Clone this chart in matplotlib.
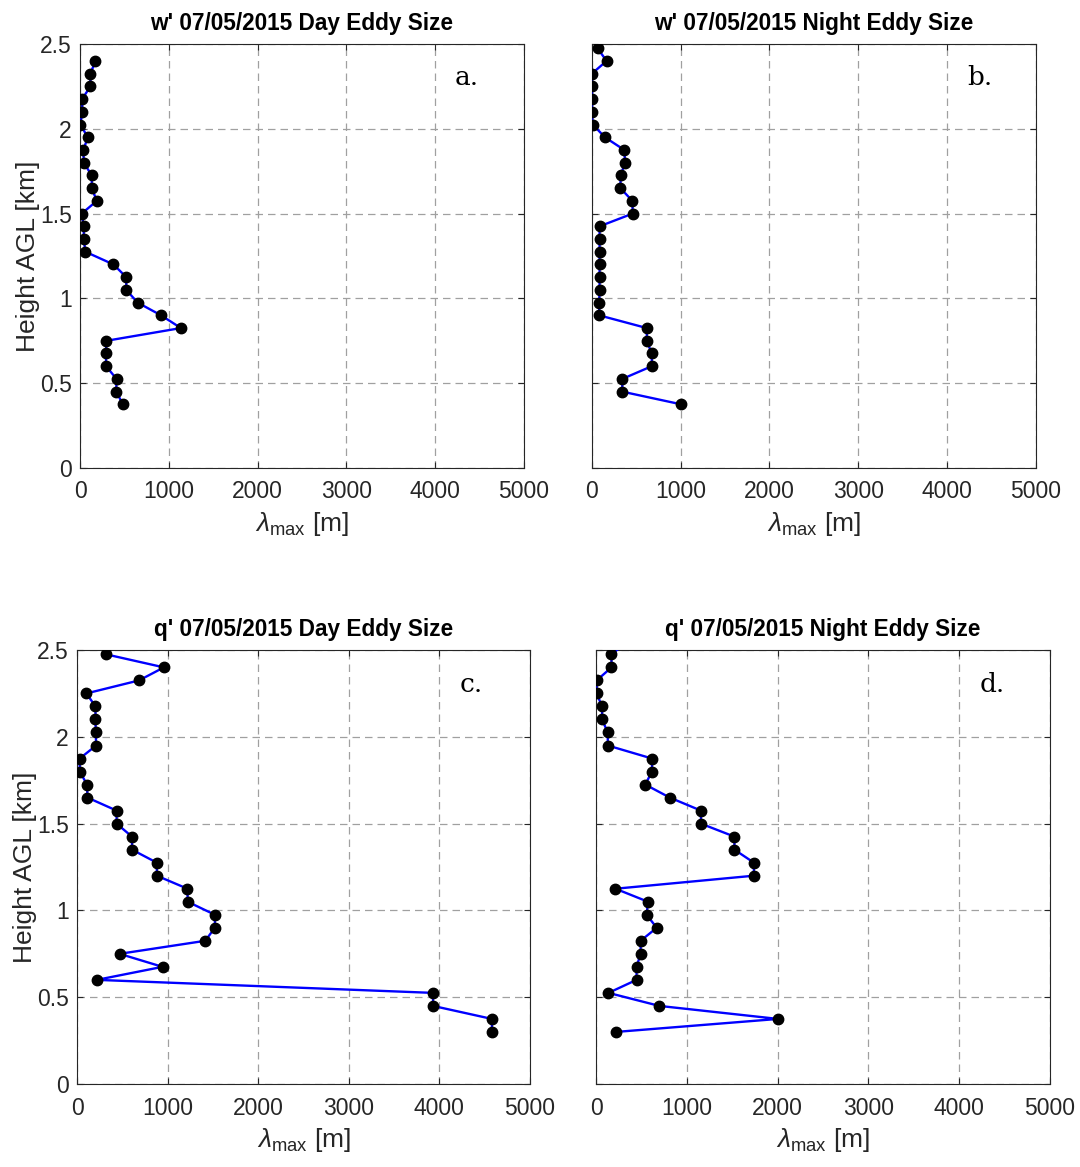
import numpy as np
from matplotlib import pyplot as plt
from matplotlib.ticker import FuncFormatter

plt.rcParams['font.family'] = ['Liberation Sans', 'DejaVu Sans']
plt.rcParams['mathtext.fontset'] = 'custom'
plt.rcParams['mathtext.rm'] = 'Liberation Sans'
plt.rcParams['mathtext.it'] = 'Liberation Sans:italic'

# heights [km], 75 m spacing, top to bottom
h_w_day = [2.4, 2.325, 2.25, 2.175, 2.1, 2.025, 1.95, 1.875, 1.8, 1.725, 1.65, 1.575, 1.5, 1.425,
           1.35, 1.275, 1.2, 1.125, 1.05, 0.975, 0.9, 0.825, 0.75, 0.675, 0.6, 0.525, 0.45, 0.375]
lam_w_day = [174, 117, 117, 23, 26, 4, 87, 38, 42, 132, 132, 189, 19, 42,
             42, 60, 377, 521, 521, 649, 913, 1136, 298, 291, 294, 411, 408, 483]

h_w_night = [2.475, 2.4, 2.325, 2.25, 2.175, 2.1, 2.025, 1.95, 1.875, 1.8, 1.725, 1.65, 1.575, 1.5,
             1.425, 1.35, 1.275, 1.2, 1.125, 1.05, 0.975, 0.9, 0.825, 0.75, 0.675, 0.6, 0.525, 0.45, 0.375]
lam_w_night = [64, 166, 0, 0, 4, 0, 11, 147, 366, 374, 325, 321, 457, 460,
               87, 87, 87, 87, 87, 87, 83, 83, 619, 619, 675, 675, 343, 343, 1008]

h_q_day = [2.475, 2.4, 2.325, 2.25, 2.175, 2.1, 2.025, 1.95, 1.875, 1.8, 1.725, 1.65, 1.575, 1.5, 1.425,
           1.35, 1.275, 1.2, 1.125, 1.05, 0.975, 0.9, 0.825, 0.75, 0.675, 0.6, 0.525, 0.45, 0.375, 0.3]
lam_q_day = [322, 959, 685, 104, 204, 204, 207, 211, 30, 30, 111, 115, 437, 437, 607,
             607, 881, 881, 1219, 1222, 1522, 1522, 1415, 470, 944, 219, 3930, 3930, 4580, 4580]

h_q_night = [2.55, 2.475, 2.4, 2.325, 2.25, 2.175, 2.1, 2.025, 1.95, 1.875, 1.8, 1.725, 1.65, 1.575, 1.5,
             1.425, 1.35, 1.275, 1.2, 1.125, 1.05, 0.975, 0.9, 0.825, 0.75, 0.675, 0.6, 0.525, 0.45, 0.375, 0.3]
lam_q_night = [350, 170, 170, 7, 7, 66, 66, 129, 129, 616, 616, 542, 812, 1155, 1155,
               1524, 1524, 1738, 1738, 214, 572, 557, 668, 491, 491, 446, 446, 137, 697, 2004, 218]

titles = ["w' 07/05/2015 Day Eddy Size", "w' 07/05/2015 Night Eddy Size",
          "q' 07/05/2015 Day Eddy Size", "q' 07/05/2015 Night Eddy Size"]
panel_tags = ['a.', 'b.', 'c.', 'd.']

fig = plt.figure(figsize=(10.8, 11.67), dpi=100)
rects = [[0.0741, 0.599, 0.411, 0.3633],
         [0.548, 0.599, 0.411, 0.3633],
         [0.0713, 0.0711, 0.4194, 0.3719],
         [0.5519, 0.0711, 0.4204, 0.3719]]
series = [(lam_w_day, h_w_day), (lam_w_night, h_w_night),
          (lam_q_day, h_q_day), (lam_q_night, h_q_night)]

dark = '#262626'
for i in range(4):
    ax = fig.add_axes(rects[i])
    x, y = series[i]
    ax.plot(x, y, color='#0000ff', lw=1.7, marker='o', ms=7.5,
            mfc='black', mec='black', zorder=3)
    ax.set_xlim(0, 5000)
    ax.set_ylim(0, 2.5)
    ax.set_xticks([0, 1000, 2000, 3000, 4000, 5000])
    ax.set_yticks([0, 0.5, 1, 1.5, 2, 2.5])
    ax.yaxis.set_major_formatter(FuncFormatter(lambda v, p: '%g' % v))
    ax.grid(True, color='#a0a0a0', ls=(0, (6, 4)), lw=0.9)
    ax.set_axisbelow(True)
    ax.tick_params(direction='in', top=True, right=True, length=4,
                   labelsize=16.5, colors=dark, labelcolor=dark)
    ax.tick_params(axis='x', pad=9)
    ax.tick_params(axis='y', pad=6)
    for s in ax.spines.values():
        s.set_color(dark)
        s.set_linewidth(0.8)
    if i % 2 == 1:
        ax.set_yticklabels([])
    else:
        ax.set_ylabel('Height AGL [km]', fontsize=19, color=dark, labelpad=0)
    ax.set_xlabel(r'$\lambda_{\mathrm{max}}$ [m]', fontsize=19, color=dark, labelpad=5)
    ax.set_title(titles[i], fontsize=16.3, fontweight='bold', color='black', pad=10)
    ax.text(0.845, 0.92, panel_tags[i], transform=ax.transAxes, fontsize=19,
            family='DejaVu Serif', ha='left', va='center', color='black')

fig.savefig('out.png', dpi=100, facecolor='white')
